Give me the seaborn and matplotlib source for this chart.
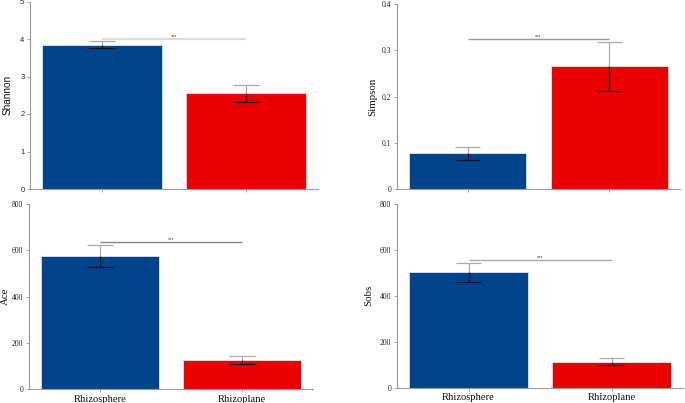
import matplotlib
matplotlib.use("Agg")
import matplotlib.pyplot as plt
import seaborn as sns
import pandas as pd

categories = ["Rhizosphere", "Rhizoplane"]
colors = ["#00448C", "#EC0000"]

shannon_mean = [3.85, 2.55]
shannon_err = [0.10, 0.22]
simpson_mean = [0.077, 0.265]
simpson_err = [0.014, 0.053]
ace_mean = [575, 127]
ace_err = [48, 18]
sobs_mean = [503, 114]
sobs_err = [42, 17]

sig_level = [4.01, 0.324, 635, 555]
sig_label = "***"

yticks_shannon = [0, 1, 2, 3, 4, 5]
yticks_simpson = [0, 0.1, 0.2, 0.3, 0.4]
yticklabels_simpson = ["0", "0.1", "0.2", "0.3", "0.4"]
yticks_count = [0, 200, 400, 600, 800]

sns.set_style("white")
plt.rcParams["font.family"] = ["Liberation Serif", "DejaVu Serif"]

W, H = 685, 403
fig = plt.figure(figsize=(W / 100, H / 100), dpi=100)

def rect(left, right, top, bottom):
    return [left / W, 1 - bottom / H, (right - left) / W, (bottom - top) / H]

panels = [
    dict(name="Shannon", mean=shannon_mean, err=shannon_err, rect=rect(30, 318, 1.5, 189),
         ylim=(0, 5), yticks=yticks_shannon, ylabels=[str(t) for t in yticks_shannon],
         sig=sig_level[0], sigcolor="#dddddd", siglw=1.6, sans=True, labx=-0.062, xlabels=False),
    dict(name="Simpson", mean=simpson_mean, err=simpson_err, rect=rect(397, 680, 4, 189),
         ylim=(0, 0.4), yticks=yticks_simpson, ylabels=yticklabels_simpson,
         sig=sig_level[1], sigcolor="#999999", siglw=1.0, sans=False, labx=-0.071, xlabels=False),
    dict(name="Ace", mean=ace_mean, err=ace_err, rect=rect(29, 313, 204.3, 389),
         ylim=(0, 800), yticks=yticks_count, ylabels=[str(t) for t in yticks_count],
         sig=sig_level[2], sigcolor="#888888", siglw=1.0, sans=False, labx=-0.067, xlabels=True),
    dict(name="Sobs", mean=sobs_mean, err=sobs_err, rect=rect(397, 683, 204, 387.7),
         ylim=(0, 800), yticks=yticks_count, ylabels=[str(t) for t in yticks_count],
         sig=sig_level[3], sigcolor="#aaaaaa", siglw=1.0, sans=False, labx=-0.084, xlabels=True),
]

for p in panels:
    ax = fig.add_axes(p["rect"])
    df = pd.DataFrame({"group": categories, "value": p["mean"]})
    sns.barplot(data=df, x="group", y="value", hue="group", palette=colors,
                legend=False, ax=ax, width=0.83, errorbar=None,
                edgecolor="#dde6f0", linewidth=0.6, saturation=1)
    # error bars: upper part light gray, lower part black
    for i, (m, e) in enumerate(zip(p["mean"], p["err"])):
        ax.vlines(i, m, m + e, color="#aaaaaa", lw=0.9, zorder=4)
        ax.hlines(m + e, i - 0.09, i + 0.09, color="#aaaaaa", lw=0.9, zorder=4)
        ax.vlines(i, m - e, m, color="#111111", lw=0.9, zorder=4)
        ax.hlines(m - e, i - 0.09, i + 0.09, color="#111111", lw=0.9, zorder=4)
    # significance line
    ax.hlines(p["sig"], 0, 1, color=p["sigcolor"], lw=p["siglw"], zorder=3)
    ax.text(0.5, p["sig"], sig_label, ha="center", va="bottom", fontsize=4,
            color="#444444", family=["Liberation Sans"])
    ax.set_xlim(-0.5, 1.5)
    ax.set_ylim(*p["ylim"])
    ax.set_yticks(p["yticks"])
    fam = ["Liberation Sans"] if p["sans"] else ["Liberation Serif"]
    ax.set_yticklabels(p["ylabels"], fontsize=5.5, family=fam, color="#222222")
    ax.set_xticks([0, 1])
    if p["xlabels"]:
        ax.set_xticklabels(categories, fontsize=7.6, family=["Liberation Serif"], color="#111111")
    else:
        ax.set_xticklabels(["", ""])
    ax.set_xlabel("")
    ax.set_ylabel(p["name"], fontsize=7.2 if p["sans"] else 7.8, family=fam, color="#111111")
    ax.yaxis.set_label_coords(p["labx"], 0.5)
    sns.despine(ax=ax)
    for s in ["left", "bottom"]:
        ax.spines[s].set_color("#999999")
        ax.spines[s].set_linewidth(0.8)
    ax.tick_params(axis="both", which="major", length=2.5, width=0.6, color="#999999",
                   pad=1.5, left=True, bottom=True)

fig.savefig("out.png", dpi=100)
